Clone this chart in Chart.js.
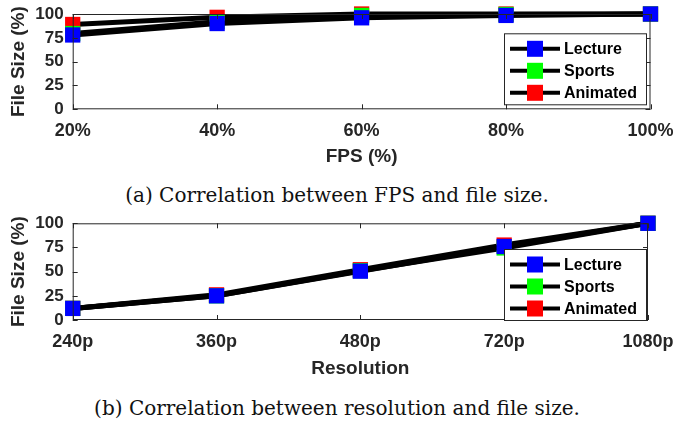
<!DOCTYPE html>
<html>
<head>
<meta charset="utf-8">
<script src="https://cdn.jsdelivr.net/npm/chart.js@4/dist/chart.umd.min.js"></script>
<style>
  html, body { margin: 0; padding: 0; background: #fff; }
  #wrap { position: relative; width: 674px; height: 428px; overflow: hidden; }
  canvas { position: absolute; left: 0; }
  .cap { position: absolute; left: 0; width: 674px; text-align: center;
         font-family: "DejaVu Serif", "Liberation Serif", serif; font-size: 20px; color: #111; }
</style>
</head>
<body>
<div id="wrap">
  <canvas id="fpsChart" width="674" height="170" style="top:0"></canvas>
  <div class="cap" style="top:183px">(a) Correlation between FPS and file size.</div>
  <canvas id="resChart" width="674" height="180" style="top:205px"></canvas>
  <div class="cap" style="top:396px">(b) Correlation between resolution and file size.</div>
</div>
<script>
const seriesNames = ["Lecture", "Sports", "Animated"];
const seriesColors = ["#0000ff", "#00ff00", "#ff0000"];

const fpsLabels = ["20%", "40%", "60%", "80%", "100%"];
const fpsLecture = [78, 90, 96, 98.5, 100];
const fpsSports = [79.5, 92, 98.5, 99.5, 100];
const fpsAnimated = [89, 96.5, 100, 100, 100];

const resLabels = ["240p", "360p", "480p", "720p", "1080p"];
const resLecture = [12, 25, 50.5, 76, 100];
const resSports = [12, 25, 51, 74.5, 100];
const resAnimated = [12, 26, 52, 77.5, 100];

const yTicks = [0, 25, 50, 75, 100];

const axisColor = "#262626";
const boldFont = "'Liberation Sans', Arial, sans-serif";

// box round the axes + small inward ticks, like MATLAB
const boxPlugin = {
  id: "box",
  afterDatasetsDraw(chart) {
    const { ctx, chartArea: a, scales } = chart;
    ctx.save();
    ctx.strokeStyle = axisColor;
    ctx.lineWidth = 1;
    ctx.strokeRect(a.left + 0.5, a.top + 0.5, a.right - a.left - 1, a.bottom - a.top - 1);
    ctx.beginPath();
    scales.x.ticks.forEach((t, i) => {
      const x = Math.round(scales.x.getPixelForTick(i)) + 0.5;
      ctx.moveTo(x, a.bottom); ctx.lineTo(x, a.bottom - 5);
      ctx.moveTo(x, a.top); ctx.lineTo(x, a.top + 5);
    });
    scales.y.ticks.forEach((t, i) => {
      const y = Math.round(scales.y.getPixelForTick(i)) + 0.5;
      ctx.moveTo(a.left, y); ctx.lineTo(a.left + 5, y);
      ctx.moveTo(a.right, y); ctx.lineTo(a.right - 5, y);
    });
    ctx.stroke();
    ctx.restore();
  }
};

// legend box with line + square marker
const boxLegend = {
  id: "boxLegend",
  afterDraw(chart, args, opts) {
    const { ctx, chartArea: a } = chart;
    const w = 142, h = 71;
    const x0 = a.right - opts.right - w;
    const y0 = a.bottom - opts.bottom - h;
    ctx.save();
    ctx.fillStyle = "#fff";
    ctx.fillRect(x0, y0, w, h);
    ctx.strokeStyle = axisColor;
    ctx.lineWidth = 1;
    ctx.strokeRect(x0 + 0.5, y0 + 0.5, w, h);
    chart.data.datasets.forEach((ds, i) => {
      const cy = y0 + 15.5 + i * 22;
      ctx.strokeStyle = "#000";
      ctx.lineWidth = 4;
      ctx.beginPath();
      ctx.moveTo(x0 + 6, cy); ctx.lineTo(x0 + 56, cy);
      ctx.stroke();
      ctx.fillStyle = ds.pointBackgroundColor;
      ctx.fillRect(x0 + 23, cy - 8, 16, 16);
      ctx.fillStyle = "#000";
      ctx.font = "bold 16px " + boldFont;
      ctx.textBaseline = "middle";
      ctx.fillText(ds.label, x0 + 60, cy + 1);
    });
    ctx.restore();
  }
};

function makeDatasets(values) {
  return values.map((v, i) => ({
    label: seriesNames[i],
    data: v,
    borderColor: "#000",
    borderWidth: 5,
    pointStyle: "rect",
    pointRadius: 10.8,
    pointHoverRadius: 10.8,
    pointBackgroundColor: seriesColors[i],
    pointBorderColor: seriesColors[i],
    pointBorderWidth: 0,
    tension: 0,
    clip: false
  }));
}

function makeChart(id, labels, values, xTitle, lay) {
  new Chart(document.getElementById(id), {
    type: "line",
    data: { labels: labels, datasets: makeDatasets(values) },
    options: {
      responsive: false,
      animation: false,
      events: [],
      layout: { padding: { top: lay.top, right: lay.right, left: 0, bottom: 0 } },
      plugins: {
        legend: { display: false },
        tooltip: { enabled: false },
        boxLegend: lay.legend
      },
      scales: {
        x: {
          type: "category",
          offset: false,
          grid: { display: false, drawTicks: false },
          border: { display: false },
          ticks: { color: "#262626", padding: lay.xPad, maxRotation: 0, autoSkip: false,
                   font: { family: boldFont, size: 18, weight: "bold" } },
          title: { display: true, text: xTitle, color: "#262626",
                   padding: { top: 0, bottom: lay.titlePad },
                   font: { family: boldFont, size: 19, weight: "bold" } },
          afterFit(s) { s.height = lay.xHeight; s.paddingLeft = 0; s.paddingRight = 0; }
        },
        y: {
          min: 0, max: 100,
          afterBuildTicks(s) { s.ticks = yTicks.map(v => ({ value: v })); },
          grid: { display: false, drawTicks: false },
          border: { display: false },
          ticks: { color: "#262626", padding: 9,
                   font: { family: boldFont, size: 17, weight: "bold" } },
          title: { display: true, text: "File Size (%)", color: "#262626",
                   padding: { top: 7, bottom: 0 },
                   font: { family: boldFont, size: 19, weight: "bold" } },
          afterFit(s) { s.width = 72.7; s.paddingTop = 0; s.paddingBottom = 0; }
        }
      }
    },
    plugins: [boxPlugin, boxLegend]
  });
}

makeChart("fpsChart", fpsLabels, [fpsLecture, fpsSports, fpsAnimated], "FPS (%)",
  { top: 14, right: 23.5, xHeight: 60.7, xPad: 11, titlePad: 2, legend: { right: 4.5, bottom: 5 } });

makeChart("resChart", resLabels, [resLecture, resSports, resAnimated], "Resolution",
  { top: 18.3, right: 26, xHeight: 65, xPad: 11.5, titlePad: 5, legend: { right: 2, bottom: 0 } });
</script>
</body>
</html>
